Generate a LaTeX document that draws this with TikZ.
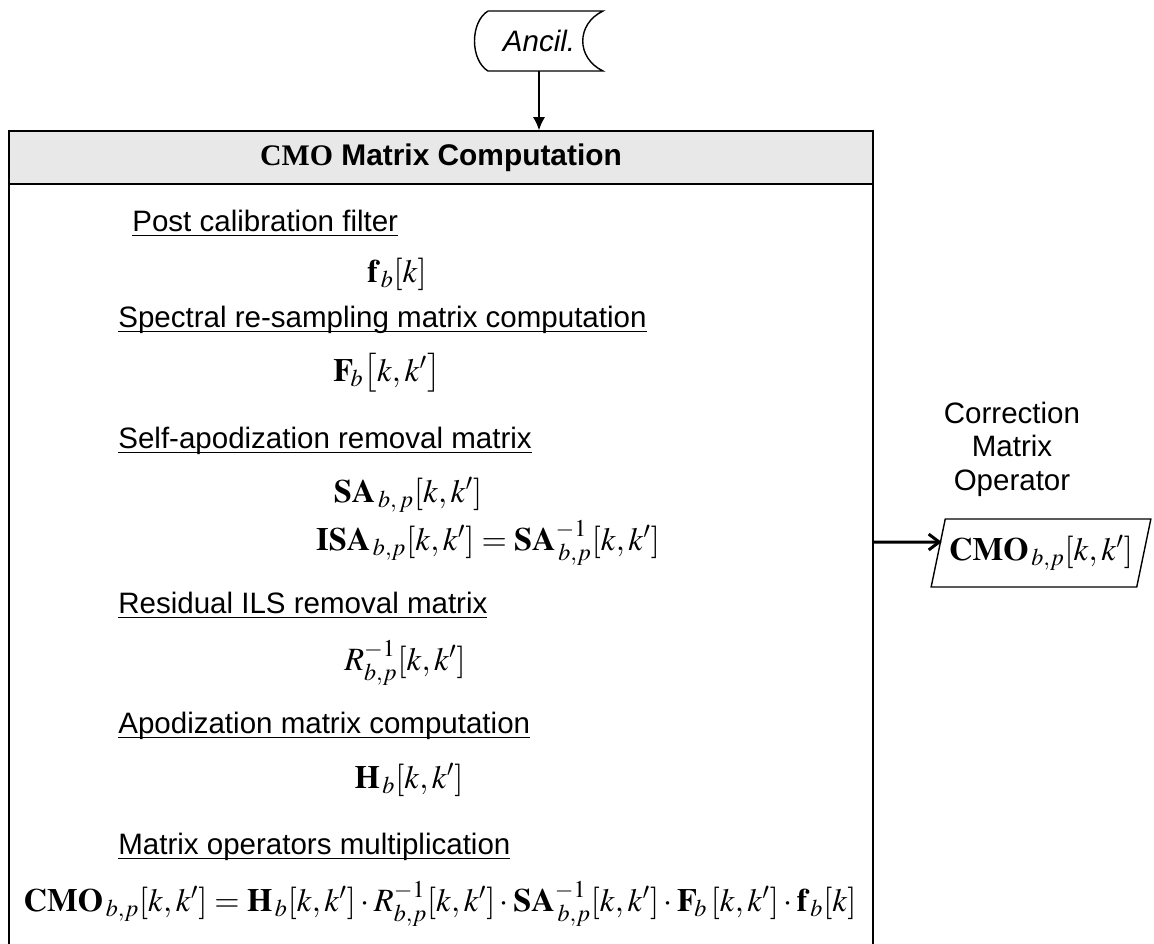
\documentclass[tikz,border=0pt]{standalone}
\usepackage{mathptmx}
\usepackage[no-math]{fontspec}
\setmainfont{Liberation Sans}
\newfontfamily\timesfont{Liberation Serif}
\usetikzlibrary{arrows.meta, shapes.geometric}
\definecolor{headgray}{RGB}{232,232,232}
\newcommand{\ulabel}[1]{\underline{\smash{#1}}}

\begin{document}
\begin{tikzpicture}[
  x=0.02cm, y=-0.02cm,
  every node/.style={font=\fontsize{16.8}{19}\selectfont, inner sep=0pt},
  heading/.style={anchor=base west},
  formula/.style={anchor=base, font=\fontsize{18.5}{21}\selectfont},
  frame/.style={draw, line width=0.9pt},
  arrow/.style={-{Latex[length=7.5pt,width=7pt]}, line width=0.9pt},
  outarrow/.style={-{Straight Barb[length=6pt,width=9pt]}, line width=1.7pt},
]
\useasboundingbox (0,0) rectangle (1154,944);

% Ancillary input (stored data)
\node[minimum width=2.56cm, minimum height=1.2cm] (ancil) at (539,41) {\itshape Ancil.};
\draw[line width=0.8pt] (488,11) -- (603,11)
  .. controls (576,24) and (576,58) .. (603,71) -- (488,71)
  .. controls (470,60) and (470,22) .. (488,11);

% Main block (runs past the lower edge)
\node[frame, minimum width=17.28cm, minimum height=16.38cm] (cmo) at (441,540.5) {};
\node[frame, fill=headgray, minimum width=17.28cm, minimum height=1.06cm] (head) at (441,157.5)
  {\fontsize{17}{19}\selectfont\textbf{{\timesfont CMO} Matrix Computation}};

% Steps
\node[heading] (filt) at (132,231) {\ulabel{Post calibration filter}};
\node[formula] (fb) at (397,282) {$\mathbf{f}_{\,b}[k]$};
\node[heading] (resamp) at (118,327) {\ulabel{Spectral re-sampling matrix computation}};
\node[formula] (Fb) at (387,381) {$\mathbf{F}_{\!b}\bigl[k,k'\bigr]$};
\node[heading] (selfapo) at (118,448) {\ulabel{Self-apodization removal matrix}};
\node[formula] (SA) at (408,502) {$\mathbf{SA}_{\,b,\,p}[k,k']$};
\node[formula] (ISA) at (488,550) {$\mathbf{ISA}_{\,b,p}[k,k'] = \mathbf{SA}^{-1}_{\,b,p}[k,k']$};
\node[heading] (resid) at (118,613) {\ulabel{Residual ILS removal matrix}};
\node[formula] (Rinv) at (405,670) {$R^{-1}_{b,p}[k,k']$};
\node[heading] (apo) at (118,733) {\ulabel{Apodization matrix computation}};
\node[formula] (Hb) at (409,788) {$\mathbf{H}_{\,b}[k,k']$};
\node[heading] (mult) at (118,854) {\ulabel{Matrix operators multiplication}};
\node[formula] (prod) at (440,911) {$\mathbf{CMO}_{\,b,p}[k,k'] = \mathbf{H}_{\,b}[k,k']\cdot R^{-1}_{b,p}[k,k']\cdot \mathbf{SA}^{-1}_{\,b,p}[k,k']\cdot \mathbf{F}_{\!b}\,[k,k']\cdot \mathbf{f}_{\,b}[k]$};

% Output
\node[align=center] (outlbl) at (1012,449) {Correction\\Matrix\\Operator};
\node[draw, line width=0.8pt, trapezium, trapezium left angle=69, trapezium right angle=111,
  trapezium stretches=true, minimum width=4.4cm, minimum height=1.36cm,
  font=\fontsize{18.5}{21}\selectfont] (out) at (1041,553) {$\mathbf{CMO}_{\,b,p}[k,k']$};

% Flow arrows
\draw[arrow] (ancil.south) -- (ancil.south |- head.north);
\draw[outarrow] (cmo.east |- 0,542) -- ([shift={(0.085cm,0.22cm)}]out.west);

\end{tikzpicture}
\end{document}
